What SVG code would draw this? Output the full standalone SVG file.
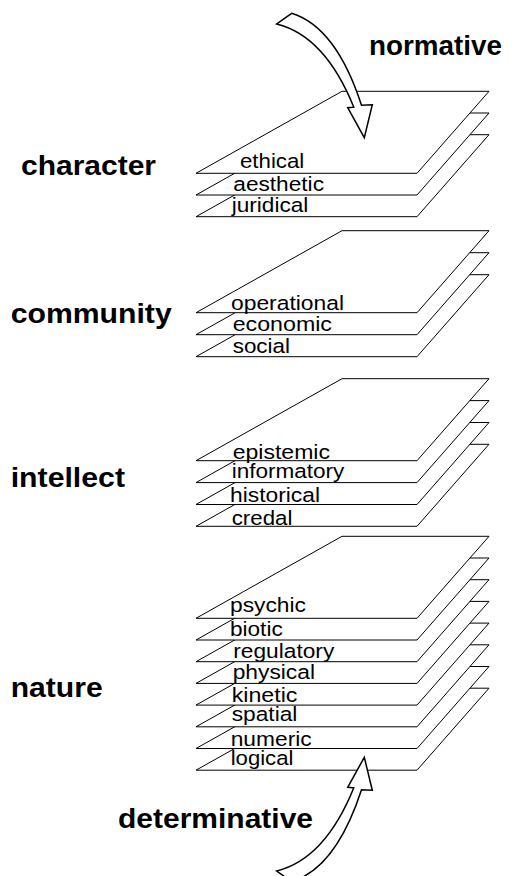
<svg xmlns="http://www.w3.org/2000/svg" xmlns:xlink="http://www.w3.org/1999/xlink" width="515" height="876" viewBox="0 0 515 876">
<style>
.pl{fill:#fff;stroke:#000;stroke-width:1}
.lb{font-family:"Liberation Sans",Arial,sans-serif;font-size:20.5px;fill:#000}
.cat{font-family:"Liberation Sans",Arial,sans-serif;font-size:27.5px;font-weight:bold;fill:#000}
.arr{fill:#fff;stroke:#000;stroke-width:1.5;stroke-linejoin:miter}
</style>
<defs>
<path id="plane" class="pl" d="M196,0 L417,0 L489,-82 L342,-82 Z"/>
</defs>
<rect width="515" height="876" fill="#fff"/>

<!-- character stack -->
<g id="juridical"><use href="#plane" xlink:href="#plane" y="216.7"/><text class="lb" x="231.7" y="212" textLength="76.7" lengthAdjust="spacingAndGlyphs">juridical</text></g>
<g id="aesthetic"><use href="#plane" xlink:href="#plane" y="195"/><text class="lb" x="233.3" y="190.5" textLength="90.7" lengthAdjust="spacingAndGlyphs">aesthetic</text></g>
<g id="ethical"><use href="#plane" xlink:href="#plane" y="173.3"/><text class="lb" x="240" y="168" textLength="64.3" lengthAdjust="spacingAndGlyphs">ethical</text></g>

<!-- community stack -->
<g id="social"><use href="#plane" xlink:href="#plane" y="356.7"/><text class="lb" x="232.7" y="353" textLength="57.3" lengthAdjust="spacingAndGlyphs">social</text></g>
<g id="economic"><use href="#plane" xlink:href="#plane" y="334.7"/><text class="lb" x="232.7" y="331" textLength="99.3" lengthAdjust="spacingAndGlyphs">economic</text></g>
<g id="operational"><use href="#plane" xlink:href="#plane" y="312.7"/><text class="lb" x="231" y="310" textLength="113" lengthAdjust="spacingAndGlyphs">operational</text></g>

<!-- intellect stack -->
<g id="credal"><use href="#plane" xlink:href="#plane" y="526.3"/><text class="lb" x="231.7" y="524.5" textLength="60.7" lengthAdjust="spacingAndGlyphs">credal</text></g>
<g id="historical"><use href="#plane" xlink:href="#plane" y="504.5"/><text class="lb" x="230" y="501.5" textLength="90" lengthAdjust="spacingAndGlyphs">historical</text></g>
<g id="informatory"><use href="#plane" xlink:href="#plane" y="482.6"/><text class="lb" x="231.7" y="478.3" textLength="112.7" lengthAdjust="spacingAndGlyphs">informatory</text></g>
<g id="epistemic"><use href="#plane" xlink:href="#plane" y="460.7"/><text class="lb" x="232.7" y="459" textLength="97.3" lengthAdjust="spacingAndGlyphs">epistemic</text></g>

<!-- nature stack -->
<g id="logical"><use href="#plane" xlink:href="#plane" y="770.2"/><text class="lb" x="230.7" y="765" textLength="62.7" lengthAdjust="spacingAndGlyphs">logical</text></g>
<g id="numeric"><use href="#plane" xlink:href="#plane" y="748.5"/><text class="lb" x="230.7" y="746" textLength="81" lengthAdjust="spacingAndGlyphs">numeric</text></g>
<g id="spatial"><use href="#plane" xlink:href="#plane" y="726.8"/><text class="lb" x="231.7" y="720.5" textLength="65.7" lengthAdjust="spacingAndGlyphs">spatial</text></g>
<g id="kinetic"><use href="#plane" xlink:href="#plane" y="705.1"/><text class="lb" x="231.7" y="701.5" textLength="65.7" lengthAdjust="spacingAndGlyphs">kinetic</text></g>
<g id="physical"><use href="#plane" xlink:href="#plane" y="683.4"/><text class="lb" x="232.7" y="678.5" textLength="82.3" lengthAdjust="spacingAndGlyphs">physical</text></g>
<g id="regulatory"><use href="#plane" xlink:href="#plane" y="661.7"/><text class="lb" x="233.3" y="657.5" textLength="101" lengthAdjust="spacingAndGlyphs">regulatory</text></g>
<g id="biotic"><use href="#plane" xlink:href="#plane" y="640"/><text class="lb" x="230" y="635.5" textLength="52.7" lengthAdjust="spacingAndGlyphs">biotic</text></g>
<g id="psychic"><use href="#plane" xlink:href="#plane" y="618.3"/><text class="lb" x="230" y="611.5" textLength="76" lengthAdjust="spacingAndGlyphs">psychic</text></g>

<!-- category labels -->
<g id="cat-character"><text class="cat" x="21" y="175" textLength="135" lengthAdjust="spacingAndGlyphs">character</text></g>
<g id="cat-community"><text class="cat" x="10.7" y="323.3" textLength="161" lengthAdjust="spacingAndGlyphs">community</text></g>
<g id="cat-intellect"><text class="cat" x="10.7" y="486.7" textLength="114.3" lengthAdjust="spacingAndGlyphs">intellect</text></g>
<g id="cat-nature"><text class="cat" x="10.7" y="697" textLength="92" lengthAdjust="spacingAndGlyphs">nature</text></g>

<!-- direction labels -->
<g id="normative"><text class="cat" x="369" y="55" textLength="133" lengthAdjust="spacingAndGlyphs">normative</text></g>
<g id="determinative"><text class="cat" x="118" y="828" textLength="195" lengthAdjust="spacingAndGlyphs">determinative</text></g>

<!-- arrows -->
<g id="connectors">
<path id="arrow-normative" class="arr" d="M291.7,13.3 Q336,27 361.5,105.3 L372.3,104.8 L364.3,137.7 L347.7,107.7 L353.8,107.2 Q325,36 276.7,24 Z"/>
<path id="arrow-determinative" class="arr" d="M291.7,881.7 Q336,868 361.5,789.7 L372.3,790.2 L364.3,757.3 L347.7,787.3 L353.8,787.8 Q325,859 276.7,871 Z"/>
</g>
</svg>
